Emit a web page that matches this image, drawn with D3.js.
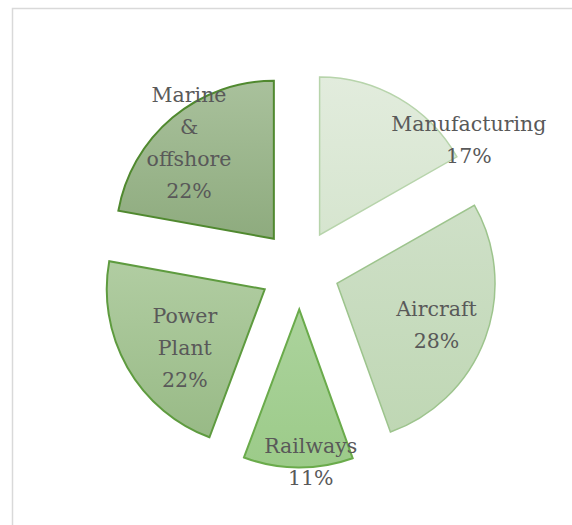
<!DOCTYPE html>
<html><head><meta charset="utf-8">
<script src="https://cdn.jsdelivr.net/npm/d3@7"></script>
<style>body{margin:0;background:#fff}svg{display:block}</style>
</head><body>
<script>
const categories = ["Manufacturing","Aircraft","Railways","Power Plant","Marine & offshore"];
const values = [16.8, 27.8, 11.2, 22.2, 22.2];
const topColors = ["#e2ecdd","#cfe0c8","#acd39d","#b1cda2","#a9c19c"];
const bottomColors = ["#d6e5cf","#bfd7b4","#9ccb89","#98ba86","#8eab7e"];
const strokeColors = ["#b7d4ab","#9dc48d","#6aab4b","#5e9b3f","#50892f"];
// label placement: angle (deg, clockwise from top) and distance from the slice tip
const labelAngles = [57.5, 112.8, 175.7, 233.8, 318.5];
const labelDist = [177, 108, 153, 99, 128];

const W = 572, H = 525;
const cx = 299.5, cy = 269.5, R = 158, explode = 40;
const svg = d3.select("body").append("svg").attr("width", W).attr("height", H);
svg.append("rect").attr("x", 12.5).attr("y", 8.5).attr("width", W).attr("height", H)
  .attr("fill", "#fff").attr("stroke", "#d9d9d9").attr("stroke-width", 1.5);

const total = d3.sum(values);
const pie = d3.pie().sort(null).value(d => d)(values);
const arc = d3.arc().innerRadius(0).outerRadius(R);
const defs = svg.append("defs");
const g = svg.append("g").attr("transform", `translate(${cx},${cy})`);

pie.forEach((p, i) => {
  const mid = (p.startAngle + p.endAngle) / 2;
  const ox = explode * Math.sin(mid), oy = -explode * Math.cos(mid);
  const gid = "grad" + i;
  const grad = defs.append("linearGradient").attr("id", gid).attr("x1", 0).attr("y1", 0).attr("x2", 0).attr("y2", 1);
  grad.append("stop").attr("offset", "0%").attr("stop-color", topColors[i]);
  grad.append("stop").attr("offset", "100%").attr("stop-color", bottomColors[i]);
  const sg = g.append("g").attr("transform", `translate(${ox},${oy})`);
  sg.append("path").attr("d", arc(p)).attr("fill", `url(#${gid})`)
    .attr("stroke", strokeColors[i]).attr("stroke-width", i < 2 ? 1.5 : 2).attr("stroke-linejoin", "miter");
});

pie.forEach((p, i) => {
  const mid = (p.startAngle + p.endAngle) / 2;
  const tx = cx + explode * Math.sin(mid), ty = cy - explode * Math.cos(mid);
  const a = labelAngles[i] * Math.PI / 180;
  const lx = tx + labelDist[i] * Math.sin(a), ly = ty - labelDist[i] * Math.cos(a);
  const lines = categories[i].split(" ").concat([Math.round(values[i] / total * 100) + "%"]);
  const lh = 32;
  const t = svg.append("text").attr("text-anchor", "middle")
    .attr("font-family", "'DejaVu Serif', serif").attr("font-size", 20.5).attr("fill", "#595959");
  lines.forEach((l, k) => {
    t.append("tspan").attr("x", lx).attr("y", ly + (k - (lines.length - 1) / 2) * lh).attr("dy", "0.35em").text(l);
  });
});
</script>
</body></html>
